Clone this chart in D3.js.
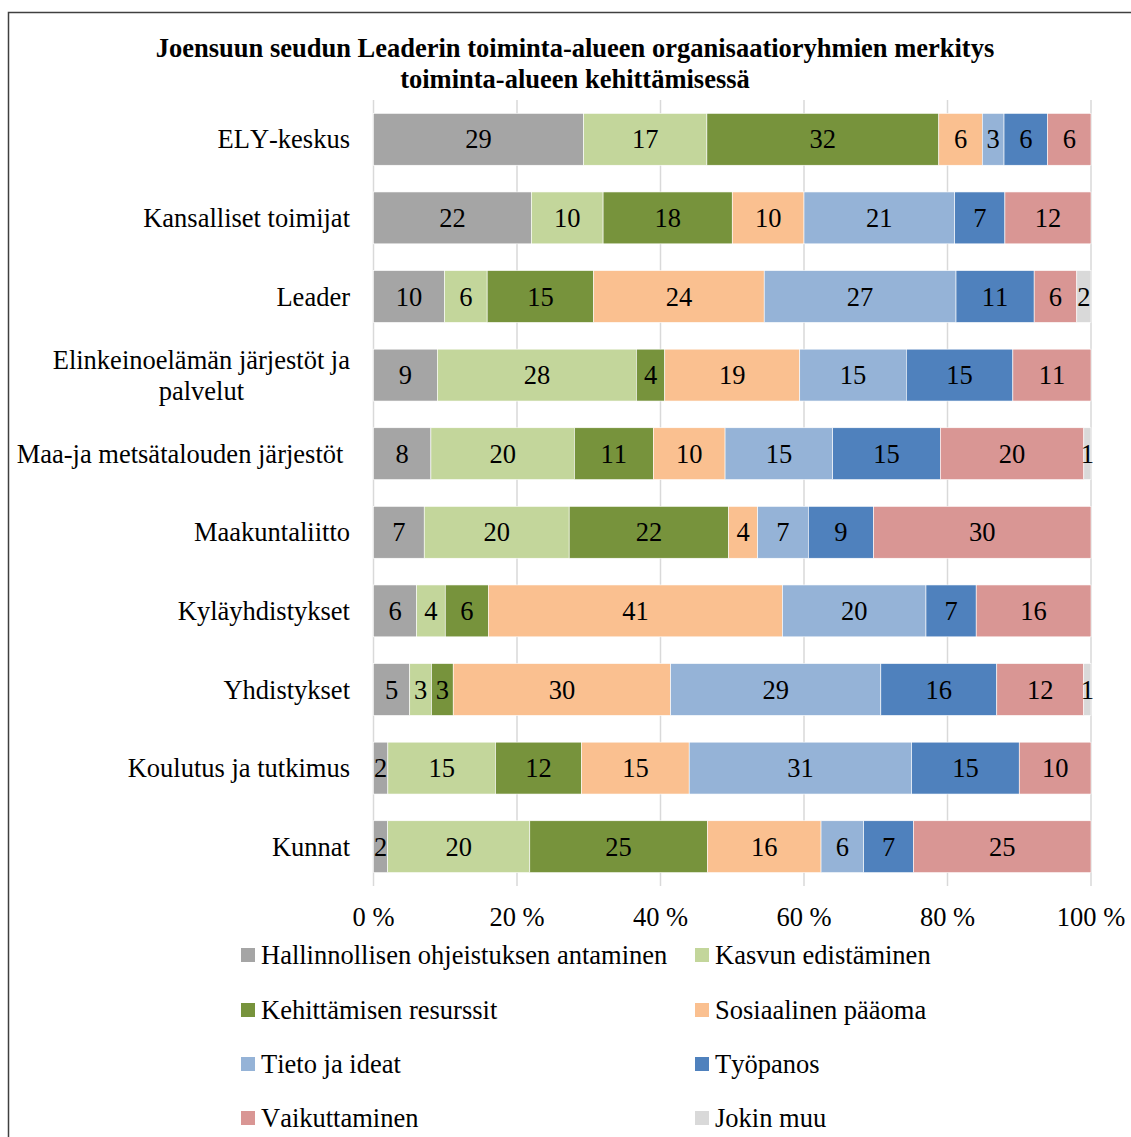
<!DOCTYPE html>
<html><head><meta charset="utf-8">
<script src="https://cdn.jsdelivr.net/npm/d3@7"></script>
<style>body{margin:0;background:#fff}svg{display:block}text{font-family:"Liberation Serif","Times New Roman",serif;font-kerning:none;}</style>
</head><body><svg id="c" width="1131" height="1137"></svg>
<script>
const titleLines = ["Joensuun seudun Leaderin toiminta-alueen organisaatioryhmien merkitys","toiminta-alueen kehittämisessä"];
const categories = ["ELY-keskus","Kansalliset toimijat","Leader","Elinkeinoelämän järjestöt ja palvelut","Maa-ja metsätalouden järjestöt ","Maakuntaliitto","Kyläyhdistykset","Yhdistykset","Koulutus ja tutkimus","Kunnat"];
const categoryLines = [["ELY-keskus"],["Kansalliset toimijat"],["Leader"],["Elinkeinoelämän järjestöt ja","palvelut"],["Maa-ja metsätalouden järjestöt "],["Maakuntaliitto"],["Kyläyhdistykset"],["Yhdistykset"],["Koulutus ja tutkimus"],["Kunnat"]];
const seriesNames = ["Hallinnollisen ohjeistuksen antaminen","Kasvun edistäminen","Kehittämisen resurssit","Sosiaalinen pääoma","Tieto ja ideat","Työpanos","Vaikuttaminen","Jokin muu"];
const seriesColors = ["#A5A5A5","#C3D69B","#77933C","#FAC090","#95B3D7","#4F81BD","#D99694","#D9D9D9"];
const hallinnollinen = [29,22,10,9,8,7,6,5,2,2];
const kasvu =          [17,10,6,28,20,20,4,3,15,20];
const kehittaminen =   [32,18,15,4,11,22,6,3,12,25];
const sosiaalinen =    [6,10,24,19,10,4,41,30,15,16];
const tieto =          [3,21,27,15,15,7,20,29,31,6];
const tyopanos =       [6,7,11,15,15,9,7,16,15,7];
const vaikuttaminen =  [6,12,6,11,20,30,16,12,10,25];
const jokinMuu =       [0,0,2,0,1,0,0,1,0,0];
const tickValues = [0,0.2,0.4,0.6,0.8,1];
const tickLabels = ["0 %","20 %","40 %","60 %","80 %","100 %"];

const seriesValues = [hallinnollinen,kasvu,kehittaminen,sosiaalinen,tieto,tyopanos,vaikuttaminen,jokinMuu];
const rows = categories.map((c,i)=>{const o={cat:c};seriesNames.forEach((s,j)=>o[s]=seriesValues[j][i]);return o;});

const svg = d3.select("#c");
svg.append("rect").attr("x",8.5).attr("y",12.5).attr("width",1300).attr("height",1300)
  .attr("fill","none").attr("stroke","#404040").attr("stroke-width",1.5);

const FS = 26.5;
svg.append("g").selectAll("text").data(titleLines).join("text")
  .attr("x",575).attr("y",(d,i)=>57+i*31).attr("text-anchor","middle")
  .attr("font-weight","bold").attr("font-size",26.5).text(d=>d);

const x = d3.scaleLinear().domain([0,1]).range([373.5,1091]);
const y = d3.scaleBand().domain(categories).range([100,886]).paddingInner(0.34).paddingOuter(0.17);

svg.append("g").selectAll("line").data(tickValues).join("line")
  .attr("x1",d=>x(d)).attr("x2",d=>x(d)).attr("y1",100).attr("y2",886)
  .attr("stroke","#D9D9D9").attr("stroke-width",1.5);

const stack = d3.stack().keys(seriesNames).offset(d3.stackOffsetExpand);
const layers = stack(rows);

const g = svg.append("g");
layers.forEach((layer,j)=>{
  g.append("g").selectAll("rect").data(layer).join("rect")
    .attr("x",d=>x(d[0])).attr("width",d=>x(d[1])-x(d[0]))
    .attr("y",d=>y(d.data.cat)).attr("height",y.bandwidth())
    .attr("fill",seriesColors[j]).attr("stroke","#fff").attr("stroke-width",0.6);
});
layers.forEach((layer,j)=>{
  g.append("g").selectAll("text").data(layer.filter(d=>d.data[layer.key]>0)).join("text")
    .attr("x",d=>(x(d[0])+x(d[1]))/2).attr("y",d=>y(d.data.cat)+y.bandwidth()/2+9)
    .attr("text-anchor","middle").attr("font-size",FS).attr("fill","#000")
    .text(d=>d.data[layer.key]);
});

categories.forEach((c,i)=>{
  const lines = categoryLines[i];
  const cy = y(c)+y.bandwidth()/2;
  const t = svg.append("text").attr("font-size",FS).attr("fill","#000").style("white-space","pre");
  if(lines.length===1){
    t.attr("x",350).attr("y",cy+9).attr("text-anchor","end").text(lines[0]);
  } else {
    const temp = svg.append("text").attr("font-size",FS).text(lines[0]);
    const w = temp.node().getComputedTextLength(); temp.remove();
    const cx = 350 - w/2;
    lines.forEach((l,k)=>{
      t.append("tspan").attr("x",cx).attr("y",cy+9+(k-(lines.length-1)/2)*31).attr("text-anchor","middle").text(l);
    });
  }
});

svg.append("g").selectAll("text").data(tickValues).join("text")
  .attr("x",d=>x(d)).attr("y",926).attr("text-anchor","middle").attr("font-size",FS)
  .text((d,i)=>tickLabels[i]);

const legCols = [241,695], legRows=[955,1010,1064,1118];
seriesNames.forEach((s,i)=>{
  const lx = legCols[i%2], ly = legRows[Math.floor(i/2)];
  svg.append("rect").attr("x",lx).attr("y",ly-7).attr("width",14).attr("height",14).attr("fill",seriesColors[i]);
  svg.append("text").attr("x",lx+20).attr("y",ly+9).attr("font-size",FS).text(s);
});
</script></body></html>
